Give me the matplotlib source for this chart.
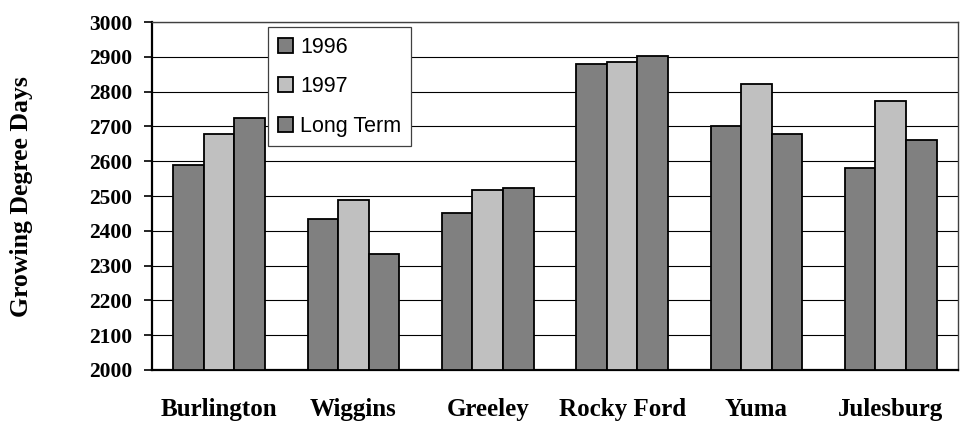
import numpy as np
import matplotlib
matplotlib.use("Agg")
import matplotlib.pyplot as plt

sites = ["Burlington", "Wiggins", "Greeley", "Rocky Ford", "Yuma", "Julesburg"]
gdd_1996 = [2589, 2434, 2452, 2879, 2701, 2581]
gdd_1997 = [2677, 2488, 2517, 2885, 2821, 2774]
gdd_long_term = [2725, 2333, 2523, 2903, 2677, 2661]
y_ticks = list(range(2000, 3001, 100))

fig = plt.figure(figsize=(9.65, 4.24), dpi=100)
ax = fig.add_axes([0.1575, 0.1274, 0.8352, 0.8206])

x = np.arange(len(sites))
width = 0.228
series = [
    (gdd_1996, "#808080", "1996"),
    (gdd_1997, "#c0c0c0", "1997"),
    (gdd_long_term, "#808080", "Long Term"),
]
for i, (vals, color, label) in enumerate(series):
    ax.bar(x + (i - 1) * width, np.array(vals) - 2000, width, bottom=2000,
           color=color, edgecolor="black", linewidth=1.3, label=label, zorder=3)

ax.set_xlim(-0.5, len(sites) - 0.5)
ax.set_ylim(2000, 3000)
ax.yaxis.grid(True, color="black", linewidth=0.8, zorder=0)
ax.set_axisbelow(True)

serif = {"family": "Liberation Serif", "weight": "bold"}
ax.set_yticks(y_ticks)
ax.set_yticklabels([str(t) for t in y_ticks], fontdict={**serif, "size": 15.5})
ax.set_xticks(x)
ax.set_xticklabels(sites, fontdict={**serif, "size": 18})
ax.tick_params(axis="x", length=0, pad=20)
ax.tick_params(axis="y", length=6, width=1.2, direction="out", pad=8)
fig.text(22 / 965, 0.5366, "Growing Degree Days", rotation=90, ha="center",
         va="center", family="Liberation Serif", weight="bold", size=18.5)

for side in ["top", "right"]:
    ax.spines[side].set_linewidth(1.0)
    ax.spines[side].set_color("#404040")
ax.spines["left"].set_linewidth(1.6)
ax.spines["bottom"].set_linewidth(1.6)

leg = ax.legend(loc="upper left", bbox_to_anchor=(0.144, 0.986), borderaxespad=0,
                prop={"family": "Liberation Sans", "size": 15.5},
                handlelength=0.7, handleheight=0.7, handletextpad=0.33,
                labelspacing=0.86, borderpad=0.45, fancybox=False,
                framealpha=1, edgecolor="#404040")
leg.get_frame().set_linewidth(0.9)
leg.set_zorder(5)

fig.savefig("out.png", dpi=100)
